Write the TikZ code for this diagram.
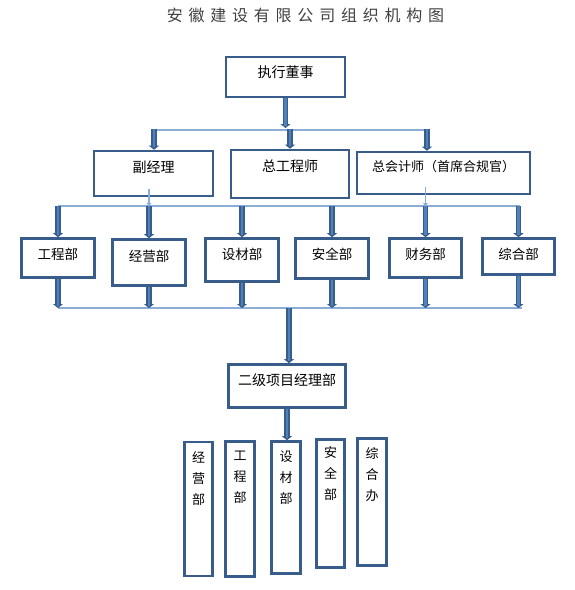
\documentclass[tikz,border=0pt]{standalone}
\usepackage{fontspec}
\newfontfamily\cjk{Noto Sans CJK SC}
\newfontfamily\cjktitle[LetterSpace=36]{Noto Sans CJK SC}
\usetikzlibrary{arrows.meta,calc}
\definecolor{boxline}{HTML}{385D8A}
\definecolor{arrfill}{HTML}{4F81BD}
\definecolor{busline}{HTML}{8AAED8}
\definecolor{titlegray}{HTML}{404040}

\begin{document}
\begin{tikzpicture}[
  x=1pt, y=-1pt,
  font=\cjk\fontsize{14}{16}\selectfont,
  box/.style={draw=boxline, line width=2.6pt, inner sep=0pt, align=center},
  dept/.style={box, minimum width=73pt, font=\cjk\fontsize{13.5}{16}\selectfont},
  vbox/.style={box, minimum width=28pt, font=\cjk\fontsize{13}{21}\selectfont},
  bigarrow/.style={draw=arrfill, line width=2.4pt, shorten >=2.5pt,
    preaction={draw=boxline, line width=5.6pt, shorten >=0pt, -{Triangle[length=4pt,width=10pt]}}},
  thinarrow/.style={draw=busline, line width=1.8pt, -{Triangle[length=3pt,width=5pt]}},
  bus/.style={draw=busline, line width=1.6pt},
]
\useasboundingbox (0,0) rectangle (574,590);

% Title
\node[font=\cjktitle\fontsize{16}{20}\selectfont, text=titlegray] (title) at (305.5,15) {安徽建设有限公司组织机构图};

% Top level
\node[box, minimum width=119pt, minimum height=40pt, text depth=10pt] (exec) at (285.5,77) {执行董事};

% Second level
\node[box, minimum width=119pt, minimum height=45pt, text depth=14pt] (fjl) at (153.5,173.5) {副经理};
\node[box, minimum width=118pt, minimum height=48pt, text depth=17pt] (zgs) at (290,174) {总工程师};
\node[box, minimum width=173pt, minimum height=42pt, text depth=15pt,
  font=\cjk\fontsize{13}{16}\selectfont] (zkj) at (443.5,173) {总会计师（首席合规官）};

% Departments
\node[dept, minimum height=39pt, text depth=9pt] (gcb) at (58,258) {工程部};
\node[dept, minimum height=46pt, text depth=14pt] (jyb) at (149,262.5) {经营部};
\node[dept, minimum height=43pt, text depth=12.5pt] (scb) at (242,260) {设材部};
\node[dept, minimum height=40pt, text depth=10pt] (aqb) at (332,258.5) {安全部};
\node[dept, minimum width=72pt, minimum height=39pt, text depth=9pt] (cwb) at (425.5,258) {财务部};
\node[dept, minimum width=72pt, minimum height=36pt, text depth=6pt] (zhb) at (518.5,256.5) {综合部};

% Project department
\node[box, minimum width=117pt, minimum height=43pt, text depth=12.5pt] (xmb) at (287,386) {二级项目经理部};

% Project sections (vertical)
\node[vbox, minimum height=134pt, text depth=62.8pt] (v1) at (198.5,509) {经\\营\\部};
\node[vbox, minimum width=29pt, minimum height=135pt, text depth=64.8pt] (v2) at (240,509) {工\\程\\部};
\node[vbox, minimum width=29pt, minimum height=132pt, text depth=59.8pt] (v3) at (286,507.5) {设\\材\\部};
\node[vbox, minimum height=128pt, text depth=60pt] (v4) at (330.5,503.5) {安\\全\\部};
\node[vbox, minimum width=29pt, minimum height=127pt, text depth=55pt] (v5) at (372,502) {综\\合\\办};

% Bus lines
\coordinate (b1l) at (154,130);
\coordinate (b1r) at (427,130);
\coordinate (b2l) at (58,206);
\coordinate (b2r) at (520,206);
\coordinate (b3l) at (58,308);
\coordinate (b3r) at (522,308);
\coordinate (b3m) at (289,308);
\draw[bus] (b1l) -- (b1r);
\draw[bus] (b2l) -- (b2r);
\draw[bus] (b3l) -- (b3r);

% Top level to second level
\draw[bigarrow] (exec.south) -- ($(exec.south |- b1l)+(0,-2)$);
\draw[bigarrow] ($(b1l)+(0,-1)$) -- (b1l |- fjl.north);
\draw[bigarrow] ($(zgs.north |- b1l)+(0,-1)$) -- (zgs.north);
\draw[bigarrow] ($(b1r)+(0,-1)$) -- (b1r |- zkj.north);

% Second level to departments
\draw[thinarrow] ($(fjl.south -| jyb.north)+(0,-8)$) -- (jyb.north |- b2l);
\draw[thinarrow] ($(zkj.south -| cwb.north)+(0,-8)$) -- (cwb.north |- b2l);
\foreach \d in {gcb,jyb,scb,aqb,cwb,zhb}
  \draw[bigarrow] (\d.north |- b2l) -- (\d.north);

% Departments to project department
\foreach \d in {gcb,jyb,scb,aqb,cwb,zhb}
  \draw[bigarrow] (\d.south) -- (\d.south |- b3l);
\draw[bigarrow] (b3m) -- (b3m |- xmb.north);
\draw[bigarrow] (xmb.south) -- (xmb.south |- v3.north);

\end{tikzpicture}
\end{document}
